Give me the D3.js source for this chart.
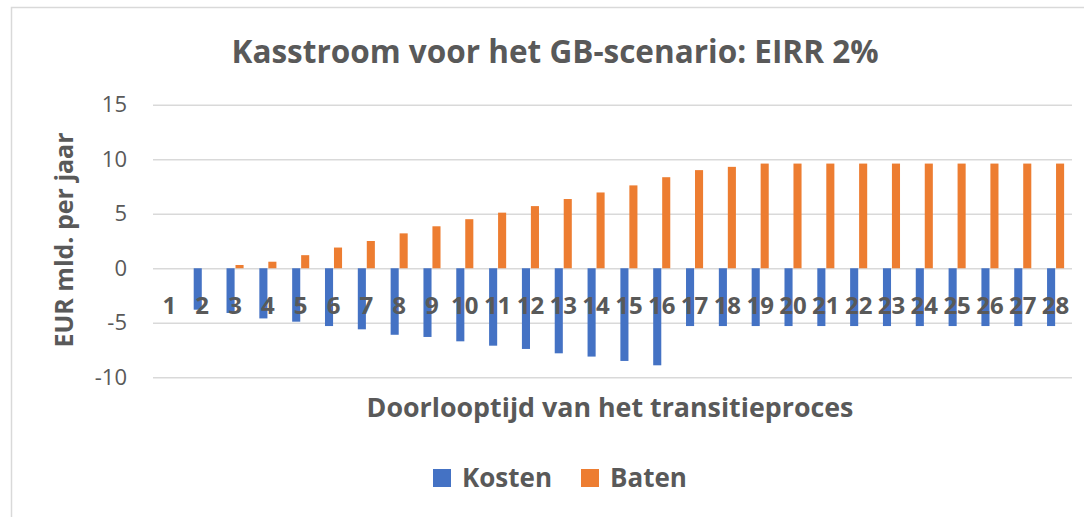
<!DOCTYPE html>
<html>
<head>
<meta charset="utf-8">
<script src="https://cdn.jsdelivr.net/npm/d3@7"></script>
<style>
  body { margin: 0; background: #fff; }
  text { font-family: "Open Sans", "Noto Sans", sans-serif; fill: #595959; }
</style>
</head>
<body>
<div id="chart"></div>
<script>
let w = 1084;
let h = 517;

// data
let years = d3.range(1, 29).map(String);
let kosten = [0, -3.8, -4.1, -4.6, -4.9, -5.3, -5.6, -6.1, -6.3, -6.7, -7.1, -7.4, -7.8, -8.1,
  -8.5, -8.9, -5.3, -5.3, -5.3, -5.3, -5.3, -5.3, -5.3, -5.3, -5.3, -5.3, -5.3, -5.3];
let baten = [0, 0, 0.3, 0.6, 1.2, 1.9, 2.5, 3.2, 3.85, 4.5, 5.1, 5.7, 6.35, 6.95,
  7.6, 8.35, 9.0, 9.3, 9.6, 9.6, 9.6, 9.6, 9.6, 9.6, 9.6, 9.6, 9.6, 9.6];
let yTicks = [-10, -5, 0, 5, 10, 15];
let seriesNames = ["Kosten", "Baten"];
let colors = { Kosten: "#4472C4", Baten: "#ED7D31" };

let rows = years.map((y, i) => ({ year: y, Kosten: kosten[i], Baten: baten[i] }));

let viz = d3.select("#chart")
  .append("svg")
  .attr("width", w)
  .attr("height", h);

// chart border (only top and left visible in the crop)
viz.append("path")
  .attr("d", "M11.5,517 V7.5 H1084")
  .attr("fill", "none")
  .attr("stroke", "#d9d9d9")
  .attr("stroke-width", 1.5);

// scales
let xScale = d3.scaleBand().domain(years).range([153, 1072]).paddingInner(0.48).paddingOuter(0.24);
let x1 = d3.scaleBand().domain(seriesNames).range([0, xScale.bandwidth()]).paddingInner(0.1);
let yScale = d3.scaleLinear().domain([-10, 15]).range([377.3, 104.7]);

// gridlines + y labels
let yAxis = d3.axisLeft(yScale)
  .tickValues(yTicks)
  .tickFormat(d => String(d))
  .tickSize(-(1072 - 153))
  .tickPadding(26);
let yAxisGroup = viz.append("g").attr("transform", "translate(153,0)").call(yAxis);
yAxisGroup.select(".domain").remove();
yAxisGroup.selectAll("line").attr("stroke", "#d9d9d9").attr("stroke-width", 1.5);
yAxisGroup.selectAll("text")
  .style("font-family", "'Open Sans', sans-serif")
  .style("font-size", "22px")
  .attr("fill", "#595959");

// bars
let groups = viz.selectAll(".grp").data(rows).enter()
  .append("g")
  .attr("class", "grp")
  .attr("transform", d => "translate(" + xScale(d.year) + ",0)");

groups.selectAll("rect")
  .data(d => seriesNames.map(s => ({ key: s, value: d[s] })))
  .enter()
  .append("rect")
  .attr("x", d => x1(d.key))
  .attr("width", x1.bandwidth())
  .attr("y", d => yScale(Math.max(0, d.value)))
  .attr("height", d => Math.abs(yScale(d.value) - yScale(0)))
  .attr("fill", d => colors[d.key]);

// category labels next to the zero axis
viz.selectAll(".catlabel").data(years).enter()
  .append("text")
  .attr("class", "catlabel")
  .attr("x", d => xScale(d) + xScale.bandwidth() / 2)
  .attr("y", 314)
  .attr("text-anchor", "middle")
  .style("font-size", "24px")
  .style("font-weight", "bold")
  .text(d => d);

// title
viz.append("text")
  .attr("x", 555)
  .attr("y", 63)
  .attr("text-anchor", "middle")
  .style("font-size", "31.5px")
  .style("font-weight", "bold")
  .text("Kasstroom voor het GB-scenario: EIRR 2%");

// axis titles
viz.append("text")
  .attr("x", 610)
  .attr("y", 417)
  .attr("text-anchor", "middle")
  .style("font-size", "26.8px")
  .style("font-weight", "bold")
  .text("Doorlooptijd van het transitieproces");

viz.append("text")
  .attr("transform", "translate(73,240) rotate(-90)")
  .attr("text-anchor", "middle")
  .style("font-size", "25px")
  .style("font-weight", "bold")
  .text("EUR mld. per jaar");

// legend
let legendX = [433, 581];
let legend = viz.selectAll(".legend").data(seriesNames).enter()
  .append("g")
  .attr("class", "legend")
  .attr("transform", (d, i) => "translate(" + legendX[i] + ",469)");

legend.append("rect")
  .attr("width", 18)
  .attr("height", 18)
  .attr("fill", d => colors[d]);

legend.append("text")
  .attr("x", 29)
  .attr("y", 18)
  .style("font-size", "26px")
  .style("font-weight", "bold")
  .text(d => d);
</script>
</body>
</html>
